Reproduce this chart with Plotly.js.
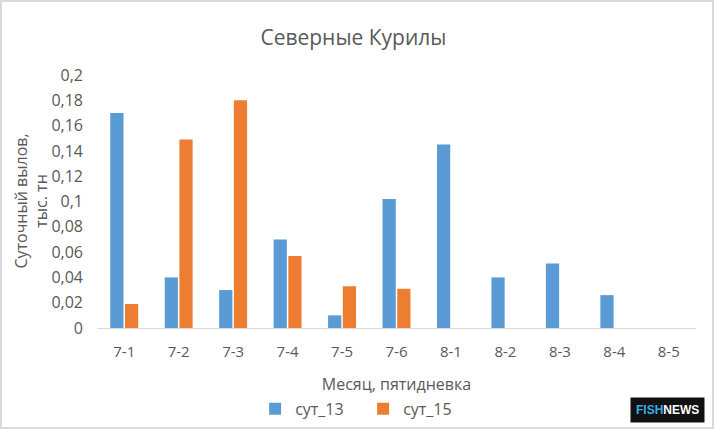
<!DOCTYPE html>
<html>
<head>
<meta charset="utf-8">
<script src="https://cdn.plot.ly/plotly-3.0.1.min.js"></script>
<style>
html,body{margin:0;padding:0;background:#fff;}
#chart{width:714px;height:429px;box-sizing:border-box;border:2px solid #d9d9d9;}
</style>
</head>
<body>
<div id="chart"></div>
<script>
const categories = ["7-1","7-2","7-3","7-4","7-5","7-6","8-1","8-2","8-3","8-4","8-5"];
const sut13 = [0.170, 0.040, 0.030, 0.070, 0.010, 0.102, 0.145, 0.040, 0.051, 0.026, 0];
const sut15 = [0.019, 0.149, 0.180, 0.057, 0.033, 0.031, 0, 0, 0, 0, 0];
const yTickVals = [0, 0.02, 0.04, 0.06, 0.08, 0.1, 0.12, 0.14, 0.16, 0.18, 0.2];
const yTickText = ["0","0,02","0,04","0,06","0,08","0,1","0,12","0,14","0,16","0,18","0,2"];

const FONT = "Open Sans, Liberation Sans, sans-serif";
const GREY = "#595959";

const traces = [
  {type:"bar", name:"сут_13", x:categories, y:sut13, marker:{color:"#5B9BD5"}, hoverinfo:"y"},
  {type:"bar", name:"сут_15", x:categories, y:sut15, marker:{color:"#ED7D31"}, hoverinfo:"y"}
];

const layout = {
  width:710, height:425,
  margin:{l:95, r:16, t:73, b:99, autoexpand:false},
  paper_bgcolor:"#fff", plot_bgcolor:"#fff",
  font:{family:FONT, color:GREY},
  title:{text:"Северные Курилы", font:{size:21, color:GREY, family:FONT}, x:0.495, xanchor:"center", y:0.915, yanchor:"middle"},
  barmode:"group", bargap:0.46, bargroupgap:0.1,
  xaxis:{
    type:"category", automargin:false,
    showline:true, linecolor:"#d9d9d9", linewidth:1,
    ticks:"", tickfont:{size:15, color:GREY, family:FONT}, ticklabelstandoff:10,
    showgrid:false, zeroline:false,
    title:{text:"Месяц, пятидневка", font:{size:16, color:GREY, family:FONT}, standoff:18}
  },
  yaxis:{
    range:[0,0.2], tickvals:yTickVals, ticktext:yTickText, automargin:false,
    showgrid:false, zeroline:false, showline:false, ticks:"",
    tickfont:{size:16, color:GREY, family:FONT}, ticklabelstandoff:13
  },
  showlegend:true,
  legend:{orientation:"h", x:0.264, y:-0.32, xanchor:"left", yanchor:"middle",
    font:{size:16, color:GREY, family:FONT}, itemwidth:30, traceorder:"normal",
    entrywidth:63, entrywidthmode:"pixels"},
  annotations:[
    {text:"Суточный вылов,<br>тыс. тн", xref:"paper", yref:"paper", x:-0.11, y:0.5,
     xanchor:"center", yanchor:"middle", textangle:-90, showarrow:false,
     font:{size:16, color:GREY, family:FONT}},
    {text:"<b><span style='color:#35aee6'>FISH</span><span style='color:#ffffff'>NEWS</span></b>",
     xref:"paper", yref:"paper", x:1.015, y:-0.325, xanchor:"right", yanchor:"middle",
     showarrow:false, bgcolor:"#111111", borderpad:5,
     font:{size:12, family:"Liberation Sans, Arial, sans-serif"}}
  ]
};

Plotly.newPlot("chart", traces, layout, {displayModeBar:false, staticPlot:true});
</script>
</body>
</html>
